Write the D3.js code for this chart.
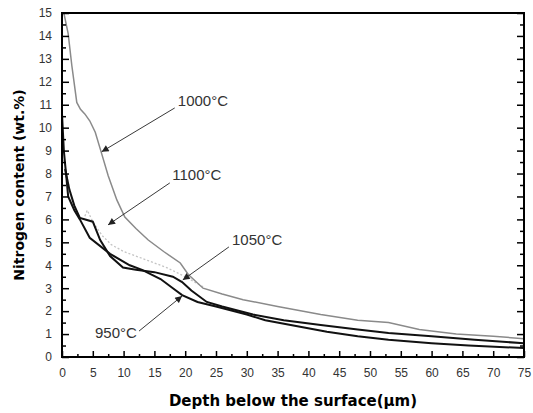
<!DOCTYPE html>
<html>
<head>
<meta charset="utf-8">
<script src="https://cdn.jsdelivr.net/npm/d3@7"></script>
<style>
  body { margin: 0; background: #fff; }
  svg { display: block; font-family: "Liberation Sans", Arial, sans-serif; }
</style>
</head>
<body>
<div id="chart"></div>
<script>
// depth (um) / nitrogen (wt.%)
const depth1000 = [0.3, 1.0, 1.6, 2.4, 3.0, 3.7, 4.5, 5.4, 6.4, 7.5, 8.9, 10.2, 12, 14, 16.5, 19.2, 20.5, 22.9, 26, 29.4, 35, 42, 48, 53, 58, 64, 70, 75];
const n1000 = [15, 14.1, 12.7, 11.1, 10.8, 10.6, 10.3, 9.8, 8.9, 7.9, 6.85, 6.1, 5.6, 5.1, 4.6, 4.1, 3.6, 3.0, 2.75, 2.5, 2.2, 1.85, 1.6, 1.5, 1.2, 1.0, 0.9, 0.8];

const depth1100 = [0.3, 1.0, 1.7, 2.8, 3.5, 4.1, 5.0, 6.5, 8, 10, 12, 14, 17, 20, 23];
const n1100 = [8.6, 7.6, 6.8, 6.1, 6.0, 6.4, 5.9, 5.3, 4.9, 4.6, 4.4, 4.2, 3.9, 3.5, 3.05];

const depth1050 = [0.5, 1.2, 2.0, 2.9, 5.0, 6.2, 7.8, 9.9, 12, 15, 18, 19.5, 21, 23.5, 26, 31, 36, 42, 48, 53, 60, 67, 75];
const n1050 = [8.2, 7.3, 6.6, 6.06, 5.9, 5.1, 4.4, 3.9, 3.8, 3.7, 3.5, 3.27, 2.9, 2.4, 2.2, 1.85, 1.6, 1.4, 1.2, 1.05, 0.9, 0.75, 0.6];

const depth950 = [0, 0.3, 1.0, 2.0, 2.9, 4.5, 7.8, 11, 13, 16, 18, 19.5, 22, 25, 30, 33, 38, 43, 48, 53, 60, 66, 75];
const n950 = [10.6, 9.0, 7.0, 6.4, 6.0, 5.2, 4.5, 4.0, 3.8, 3.4, 3.0, 2.7, 2.4, 2.2, 1.85, 1.6, 1.35, 1.1, 0.9, 0.75, 0.6, 0.5, 0.39];

const xTicks = d3.range(0, 76, 5);
const yTicks = d3.range(0, 16, 1);

// label text, label anchor, arrow start, arrow tip (data units)
const labels = ["1000°C", "1100°C", "1050°C", "950°C"];
const labelAt = [[18.8, 10.95], [17.9, 7.72], [27.6, 4.88], [5.36, 0.83]];
const arrowFrom = [[18.3, 10.86], [17.5, 7.59], [27.1, 4.8], [12.5, 1.13]];
const arrowTo = [[6.44, 8.95], [7.47, 5.76], [19.6, 3.36], [19.5, 2.66]];

const width = 533, height = 413;
const margin = { top: 13, right: 9, bottom: 56, left: 62 };

const svg = d3.select("#chart").append("svg")
  .attr("width", width)
  .attr("height", height);

const x = d3.scaleLinear().domain([0, 75]).range([margin.left, width - margin.right]);
const y = d3.scaleLinear().domain([0, 15]).range([height - margin.bottom, margin.top]);

const defs = svg.append("defs");
defs.append("marker")
  .attr("id", "head")
  .attr("viewBox", "0 0 10 10")
  .attr("refX", 10).attr("refY", 5)
  .attr("markerWidth", 9).attr("markerHeight", 7)
  .attr("markerUnits", "userSpaceOnUse")
  .attr("orient", "auto")
  .append("path")
  .attr("d", "M0,0L10,5L0,10Z")
  .attr("fill", "#222");

defs.append("clipPath").attr("id", "clip")
  .append("rect")
  .attr("x", x(0)).attr("y", y(15))
  .attr("width", x(75) - x(0)).attr("height", y(0) - y(15));

const line = d3.line().x(d => x(d[0])).y(d => y(d[1]));
const zip = (a, b) => a.map((v, i) => [v, b[i]]);

const plot = svg.append("g").attr("clip-path", "url(#clip)");

plot.append("path")
  .datum(zip(depth1100, n1100))
  .attr("fill", "none")
  .attr("stroke", "#c4c4c4")
  .attr("stroke-width", 1.3)
  .attr("stroke-dasharray", "2,2")
  .attr("d", line);

plot.append("path")
  .datum(zip(depth1000, n1000))
  .attr("fill", "none")
  .attr("stroke", "#8a8a8a")
  .attr("stroke-width", 1.5)
  .attr("d", line);

plot.append("path")
  .datum(zip(depth1050, n1050))
  .attr("fill", "none")
  .attr("stroke", "#111")
  .attr("stroke-width", 2)
  .attr("d", line);

plot.append("path")
  .datum(zip(depth950, n950))
  .attr("fill", "none")
  .attr("stroke", "#111")
  .attr("stroke-width", 2)
  .attr("d", line);

// axes, ticks pointing inward
const minorX = d3.range(2.5, 75, 5);
const minorY = d3.range(0.5, 15, 1);
const tickFont = "'Liberation Sans Narrow', 'Liberation Sans', Arial";

svg.append("g")
  .attr("transform", `translate(0,${y(0)})`)
  .call(d3.axisBottom(x).tickValues(minorX).tickSize(-3).tickFormat(""))
  .call(g => g.select(".domain").remove());
svg.append("g")
  .attr("transform", `translate(0,${y(0)})`)
  .call(d3.axisBottom(x).tickValues(xTicks).tickSize(-6).tickPadding(11).tickFormat(d3.format("d")))
  .call(g => g.select(".domain").remove())
  .call(g => g.selectAll("text").attr("font-size", 12).attr("fill", "#333").attr("font-family", tickFont));

svg.append("g")
  .attr("transform", `translate(${x(0)},0)`)
  .call(d3.axisLeft(y).tickValues(minorY).tickSize(-4).tickFormat(""))
  .call(g => g.select(".domain").remove());
svg.append("g")
  .attr("transform", `translate(${x(0)},0)`)
  .call(d3.axisLeft(y).tickValues(yTicks).tickSize(-7).tickPadding(10).tickFormat(d3.format("d")))
  .call(g => g.select(".domain").remove())
  .call(g => g.selectAll("text").attr("font-size", 12).attr("fill", "#333").attr("font-family", tickFont));

svg.append("g")
  .attr("transform", `translate(${x(75)},0)`)
  .call(d3.axisRight(y).tickValues(minorY).tickSize(-4).tickFormat(""))
  .call(g => g.select(".domain").remove());
svg.append("g")
  .attr("transform", `translate(${x(75)},0)`)
  .call(d3.axisRight(y).tickValues(yTicks).tickSize(-7).tickFormat(""))
  .call(g => g.select(".domain").remove());

svg.selectAll(".tick line").attr("stroke", "#000").attr("stroke-width", 1.5);

svg.append("rect")
  .attr("x", x(0)).attr("y", y(15))
  .attr("width", x(75) - x(0)).attr("height", y(0) - y(15))
  .attr("fill", "none")
  .attr("stroke", "#000")
  .attr("stroke-width", 2);

// annotations
svg.append("g").selectAll("line")
  .data(labels)
  .join("line")
  .attr("x1", (d, i) => x(arrowFrom[i][0]))
  .attr("y1", (d, i) => y(arrowFrom[i][1]))
  .attr("x2", (d, i) => x(arrowTo[i][0]))
  .attr("y2", (d, i) => y(arrowTo[i][1]))
  .attr("stroke", "#222")
  .attr("stroke-width", 0.9)
  .attr("marker-end", "url(#head)");

svg.append("g").selectAll("text")
  .data(labels)
  .join("text")
  .attr("x", (d, i) => x(labelAt[i][0]))
  .attr("y", (d, i) => y(labelAt[i][1]))
  .attr("font-size", 15)
  .attr("fill", "#333")
  .text(d => d);

// axis titles
svg.append("text")
  .attr("x", (x(0) + x(75)) / 2)
  .attr("y", 406)
  .attr("text-anchor", "middle")
  .attr("font-family", "'DejaVu Sans', sans-serif")
  .attr("font-size", 15)
  .attr("font-weight", "bold")
  .text("Depth below the surface(μm)");

svg.append("text")
  .attr("transform", `translate(24,${(y(0) + y(15)) / 2}) rotate(-90)`)
  .attr("text-anchor", "middle")
  .attr("font-family", "'DejaVu Sans', sans-serif")
  .attr("font-size", 14)
  .attr("font-weight", "bold")
  .text("Nitrogen content (wt.%)");
</script>
</body>
</html>
